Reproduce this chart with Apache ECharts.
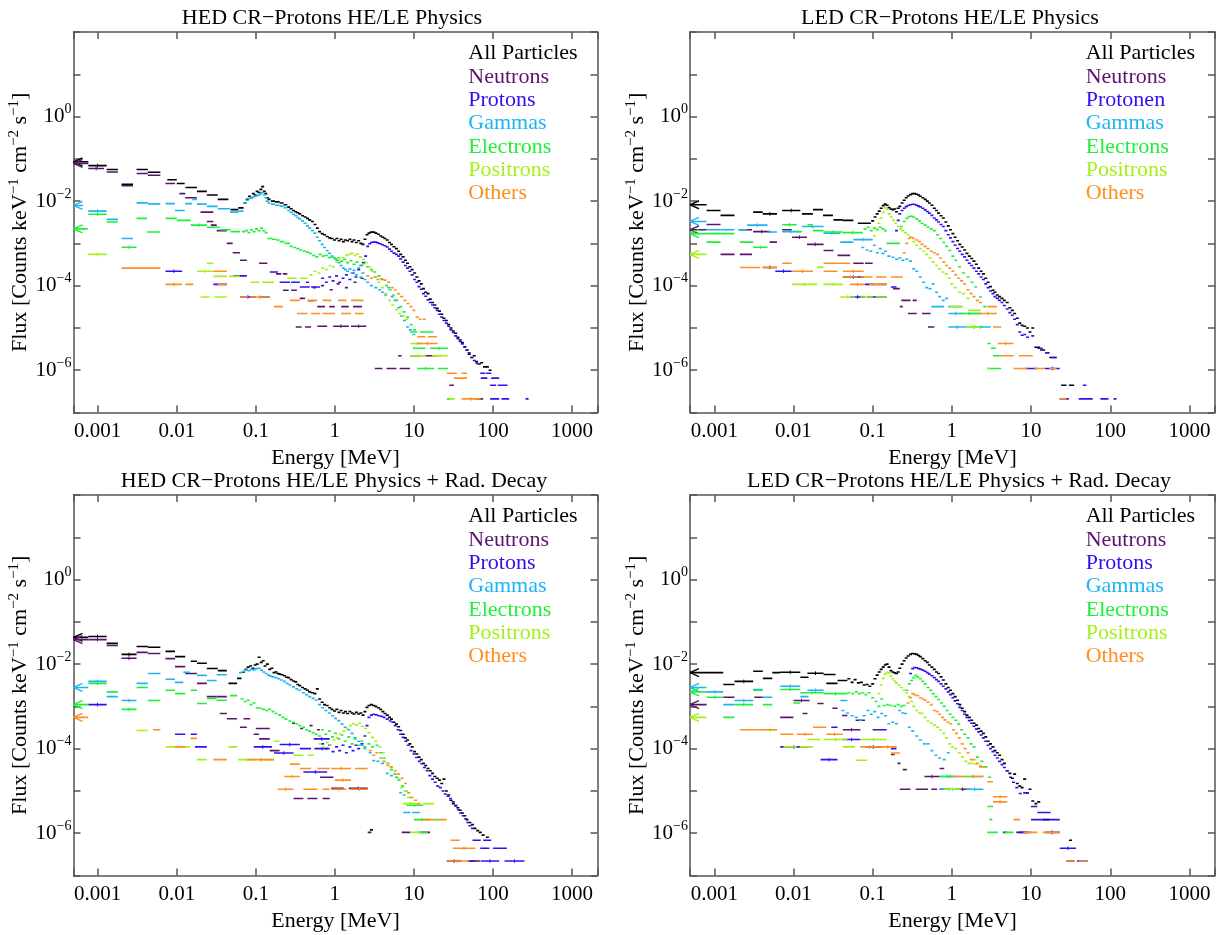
<!DOCTYPE html>
<html>
<head>
<meta charset="utf-8">
<title>CR-Protons spectra</title>
<script src="https://cdn.jsdelivr.net/npm/echarts@6/dist/echarts.min.js"></script>
<style>
  html, body { margin: 0; padding: 0; background: #fff; }
  #main { width: 1222px; height: 935px; }
</style>
</head>
<body>
<div id="main"></div>
<script>
// values. a point is [Elow, Ehigh, flux] for a wide bin
// or [E, flux] for a narrow one. energy in MeV, flux in counts keV^-1 cm^-2 s^-1
// (a bin starting below the axis minimum is an underflow and gets an arrow)

var particleNames = ['All Particles', 'Neutrons', 'Protons', 'Gammas', 'Electrons', 'Positrons', 'Others'];
var particleNamesLed = ['All Particles', 'Neutrons', 'Protonen', 'Gammas', 'Electrons', 'Positrons', 'Others'];
var panelTitles = [
  'HED CR\u2212Protons HE/LE Physics',
  'LED CR\u2212Protons HE/LE Physics',
  'HED CR\u2212Protons HE/LE Physics + Rad. Decay',
  'LED CR\u2212Protons HE/LE Physics + Rad. Decay'
];
var xTickValues = [0.001, 0.01, 0.1, 1, 10, 100, 1000];
var xTickLabels = ['0.001', '0.01', '0.1', '1', '10', '100', '1000'];
var yTickExponents = [0, -2, -4, -6];
var yTickSuperscripts = ['0', '\u22122', '\u22124', '\u22126'];

// ---------- HED, HE/LE physics ----------
var hedAll = [
  [3e-4, 7.6e-4, 8.5e-2], [7.6e-4, 1.3e-3, 6.9e-2], [1.3e-3, 1.8e-3, 5.6e-2], [2.0e-3, 2.8e-3, 2.5e-2],
  [3.1e-3, 4.3e-3, 5.6e-2], [4.3e-3, 6.2e-3, 4.8e-2], [7.6e-3, 1.0e-2, 3.2e-2], [1.0e-2, 1.26e-2, 2.6e-2],
  [1.29e-2, 1.8e-2, 2.1e-2], [1.8e-2, 2.4e-2, 1.7e-2], [2.4e-2, 3.3e-2, 1.4e-2], [3.3e-2, 4.5e-2, 1.1e-2],
  [4.8e-2, 6.0e-2, 6.3e-3], [6.0e-2, 7.0e-2, 6.9e-3],
  [0.073, 9.0e-3], [0.078, 1.1e-2], [0.083, 1.3e-2], [0.088, 1.2e-2], [0.093, 1.5e-2], [0.098, 1.4e-2],
  [0.104, 1.7e-2], [0.11, 1.6e-2], [0.116, 1.9e-2], [0.122, 2.2e-2], [0.128, 1.7e-2], [0.134, 1.5e-2],
  [0.14, 1.2e-2], [0.147, 1.1e-2],
  [0.155, 0.175, 1.0e-2], [0.175, 0.2, 9.6e-3], [0.2, 0.225, 9.0e-3], [0.225, 0.25, 8.2e-3],
  [0.26, 7.2e-3], [0.28, 6.6e-3], [0.3, 6.0e-3], [0.32, 5.6e-3], [0.34, 5.3e-3], [0.36, 5.0e-3],
  [0.39, 4.5e-3], [0.42, 4.2e-3], [0.45, 3.9e-3], [0.48, 3.6e-3], [0.52, 3.3e-3], [0.56, 2.8e-3],
  [0.6, 2.3e-3], [0.64, 1.9e-3], [0.69, 1.7e-3], [0.74, 1.6e-3], [0.8, 1.45e-3], [0.86, 1.35e-3],
  [0.92, 1.3e-3], [0.99, 1.2e-3], [1.06, 1.3e-3], [1.13, 1.15e-3], [1.2, 1.25e-3], [1.28, 1.1e-3],
  [1.36, 1.2e-3], [1.45, 1.15e-3], [1.55, 1.25e-3], [1.65, 1.1e-3], [1.75, 1.2e-3], [1.87, 1.05e-3],
  [2.0, 1.15e-3], [2.13, 1.0e-3], [2.27, 9.5e-4], [2.4, 1.25e-3], [2.55, 1.6e-3], [2.7, 1.75e-3],
  [2.9, 1.85e-3], [3.1, 1.85e-3], [3.3, 1.75e-3], [3.55, 1.65e-3], [3.8, 1.5e-3], [4.05, 1.4e-3],
  [4.3, 1.3e-3], [4.6, 1.2e-3], [4.9, 1.05e-3], [5.2, 9.5e-4], [5.6, 8.3e-4], [6.0, 7.5e-4],
  [6.4, 6.5e-4], [6.8, 5.5e-4], [7.3, 4.8e-4], [7.8, 4.0e-4], [8.3, 3.4e-4], [8.9, 2.8e-4],
  [9.5, 2.4e-4], [10.2, 2.0e-4], [10.9, 1.6e-4], [11.6, 1.3e-4], [12.4, 1.1e-4], [13.2, 8.5e-5],
  [14.1, 7.0e-5], [15.1, 6.5e-5], [16.1, 4.8e-5], [17.2, 4.0e-5], [18.4, 3.5e-5], [19.7, 2.9e-5],
  [21, 2.5e-5], [22.5, 2.1e-5], [24, 1.7e-5], [25.7, 1.5e-5], [27.5, 1.2e-5], [29.4, 1.0e-5],
  [31.5, 8.5e-6], [33.7, 7.5e-6], [36, 6.0e-6], [38.5, 5.2e-6], [41, 4.5e-6], [44, 3.6e-6],
  [47, 3.0e-6], [50, 2.4e-6], [54, 2.0e-6], [58, 2.2e-6], [62, 1.6e-6], [67, 1.4e-6],
  [72, 1.5e-6], [78, 1.2e-6], [85, 1.2e-6], [92, 1.0e-6]
];
var hedNeutrons = [
  [3e-4, 7.6e-4, 7.8e-2], [7.6e-4, 1.2e-3, 5.9e-2], [1.3e-3, 1.8e-3, 4.9e-2], [2.0e-3, 2.8e-3, 2.3e-2],
  [3.1e-3, 4.3e-3, 4.5e-2], [4.3e-3, 6.2e-3, 4.1e-2], [7.2e-3, 9.5e-3, 2.6e-2], [1.08e-2, 1.28e-2, 1.5e-2],
  [1.28e-2, 1.8e-2, 1.2e-2], [2.0e-2, 2.9e-2, 5.5e-3], [2.4e-2, 2.9e-2, 3.3e-3], [2.7e-2, 3.2e-2, 2.7e-3],
  [3.2e-2, 4.3e-2, 2.0e-3], [4.3e-2, 5.1e-2, 1.0e-3], [5.1e-2, 6.3e-2, 6.0e-4], [6.3e-2, 7.7e-2, 4.0e-4],
  [0.11, 0.14, 3.4e-4], [0.18, 0.21, 1.9e-4], [0.22, 0.25, 1.9e-4], [0.22, 0.26, 7.8e-5], [0.28, 0.33, 7.8e-5],
  [0.36, 0.42, 5.0e-5], [0.46, 0.54, 4.4e-5], [0.32, 0.38, 1.05e-5], [0.42, 0.5, 1.05e-5],
  [0.6, 0.75, 3.2e-5], [0.85, 1.0, 3.2e-5], [1.2, 1.5, 3.2e-5], [1.7, 2.2, 3.2e-5],
  [0.6, 0.8, 1.1e-5], [0.95, 1.5, 1.1e-5], [1.6, 2.5, 1.1e-5],
  [0.45, 1.2e-4], [0.55, 9e-5], [0.7, 1.0e-4], [0.9, 8e-5], [1.1, 1.1e-4], [1.4, 9e-5], [1.8, 1.2e-4], [2.2, 1.5e-4],
  [6.3, 7.0, 2.2e-6], [9, 12, 2.2e-6], [14, 20, 2.2e-6],
  [3.2, 4.0, 1.1e-6], [4.5, 6.0, 1.1e-6], [6.6, 8.9, 1.1e-6], [28, 32, 4.4e-7], [60, 75, 2.1e-7]
];
var hedProtons = [
  [7.2e-3, 1.17e-2, 2.2e-4], [2.9e-2, 4.3e-2, 1.07e-4], [5.2e-2, 7.7e-2, 1.7e-4], [6.3e-2, 0.1, 5.4e-5],
  [0.11, 0.15, 5.4e-5], [0.15, 0.19, 2.1e-4], [0.2, 0.27, 1.2e-4], [0.28, 0.36, 1.2e-4],
  [0.36, 0.48, 9.3e-5], [0.5, 0.65, 9.3e-5],
  [0.7, 1.5e-4], [0.78, 1.2e-4], [0.86, 1.6e-4], [0.95, 1.3e-4], [1.05, 1.7e-4], [1.15, 1.2e-4],
  [1.27, 1.5e-4], [1.4, 1.8e-4], [1.55, 1.4e-4], [1.7, 2.0e-4], [1.85, 1.6e-4], [2.0, 2.4e-4],
  [2.15, 3.0e-4], [2.3, 3.5e-4], [2.45, 5e-4], [2.6, 8.5e-4], [2.75, 9.8e-4], [2.9, 1.05e-3],
  [3.1, 1.07e-3], [3.3, 1.07e-3], [3.5, 1.03e-3], [3.75, 9.8e-4], [4.0, 9.3e-4], [4.3, 8.8e-4],
  [4.6, 8.2e-4], [4.9, 7.3e-4], [5.2, 6.5e-4], [5.6, 5.9e-4], [6.0, 5.5e-4], [6.4, 5.0e-4],
  [6.8, 4.3e-4], [7.3, 3.6e-4], [7.8, 3.0e-4], [8.3, 2.6e-4], [8.9, 2.2e-4], [9.5, 1.8e-4],
  [10.2, 1.4e-4], [10.9, 1.2e-4], [11.6, 9.5e-5], [12.4, 8.2e-5], [13.2, 6.5e-5], [14.1, 5.6e-5],
  [15.1, 4.6e-5], [16.1, 4.0e-5], [17.2, 3.5e-5], [18.4, 3.0e-5], [19.7, 2.6e-5], [21, 2.1e-5],
  [22.5, 1.8e-5], [24, 1.5e-5], [25.7, 1.3e-5], [27.5, 1.1e-5], [29.4, 9.0e-6], [31.5, 7.8e-6],
  [33.7, 6.5e-6], [36, 5.6e-6], [38.5, 4.8e-6], [41, 4.2e-6], [44, 3.5e-6], [47, 3.0e-6],
  [50, 2.6e-6], [54, 2.0e-6], [58, 1.7e-6], [63, 1.45e-6],
  [69, 80, 8.5e-7], [82, 95, 8.5e-7], [70, 85, 6.5e-7], [95, 120, 6.5e-7], [92, 110, 4.4e-7],
  [115, 153, 4.4e-7], [92, 120, 2.1e-7], [128, 160, 2.1e-7], [260, 280, 2.1e-7]
];
var hedGammas = [
  [3e-4, 6.5e-4, 7.9e-3], [7.6e-4, 1.3e-3, 5.8e-3], [1.3e-3, 1.8e-3, 3.7e-3], [2.0e-3, 2.8e-3, 1.3e-3],
  [3.1e-3, 4.3e-3, 9.1e-3], [4.3e-3, 6.2e-3, 8.6e-3], [7.2e-3, 9.5e-3, 8.7e-3], [9.5e-3, 1.26e-2, 6.0e-3],
  [1.28e-2, 1.57e-2, 8.7e-3], [1.57e-2, 1.8e-2, 1.1e-2], [1.8e-2, 2.4e-2, 8.5e-3], [2.4e-2, 3.3e-2, 7.5e-3],
  [3.3e-2, 4.7e-2, 6.6e-3], [4.7e-2, 6.0e-2, 5.5e-3], [6.0e-2, 7.0e-2, 5.8e-3],
  [0.073, 9e-3], [0.078, 1.05e-2], [0.083, 1.15e-2], [0.088, 1.2e-2], [0.093, 1.25e-2], [0.098, 1.3e-2],
  [0.104, 1.35e-2], [0.11, 1.4e-2], [0.116, 1.5e-2], [0.122, 1.6e-2], [0.128, 1.4e-2], [0.134, 1.2e-2],
  [0.14, 1.0e-2], [0.147, 9e-3],
  [0.155, 0.175, 8.5e-3], [0.175, 0.2, 8.0e-3], [0.2, 0.225, 7.6e-3], [0.225, 0.25, 7.0e-3],
  [0.26, 6.0e-3], [0.28, 5.4e-3], [0.3, 4.9e-3], [0.32, 4.5e-3], [0.34, 4.1e-3], [0.36, 3.8e-3],
  [0.39, 3.4e-3], [0.42, 3.0e-3], [0.45, 2.6e-3], [0.48, 2.3e-3], [0.52, 2.0e-3], [0.56, 1.75e-3],
  [0.6, 1.4e-3], [0.64, 1.15e-3], [0.69, 9.5e-4], [0.74, 8e-4], [0.8, 6.8e-4], [0.86, 5.8e-4],
  [0.92, 5e-4], [0.99, 4.5e-4], [1.06, 4e-4], [1.13, 3.5e-4], [1.2, 3.0e-4], [1.28, 2.6e-4],
  [1.36, 2.4e-4], [1.45, 2.2e-4], [1.55, 2.5e-4], [1.65, 2.0e-4], [1.75, 2.3e-4], [1.87, 1.8e-4],
  [2.0, 2.6e-4], [2.13, 1.6e-4], [2.27, 2.0e-4], [2.4, 1.4e-4], [2.6, 1.2e-4], [2.9, 1.0e-4],
  [3.3, 9e-5], [3.7, 8e-5], [4.0, 7e-5], [4.4, 6e-5], [4.8, 9e-5], [5.3, 5.5e-5], [5.8, 4.5e-5],
  [6.4, 3e-5], [7.0, 1.9e-5], [7.6, 1.5e-5], [8.3, 1.05e-5], [9.0, 9e-6], [10, 7e-6], [11, 4.3e-6]
];
var hedElectrons = [
  [3e-4, 7.5e-4, 2.2e-3], [7.6e-4, 1.3e-3, 4.9e-3], [1.3e-3, 1.8e-3, 3.2e-3], [2.0e-3, 3.1e-3, 8.1e-4],
  [3.1e-3, 4.2e-3, 3.9e-3], [4.2e-3, 6.2e-3, 1.86e-3], [7.2e-3, 1.0e-2, 3.9e-3], [1.0e-2, 1.5e-2, 3.5e-3],
  [1.5e-2, 2.4e-2, 2.7e-3], [2.4e-2, 3.5e-2, 2.4e-3], [3.5e-2, 4.8e-2, 2.1e-3], [4.8e-2, 6.3e-2, 1.9e-3],
  [0.07, 1.9e-3], [0.076, 2.0e-3], [0.082, 1.8e-3], [0.088, 2.1e-3], [0.095, 1.9e-3], [0.102, 2.2e-3],
  [0.11, 2.0e-3], [0.118, 2.3e-3], [0.126, 2.0e-3], [0.135, 1.8e-3],
  [0.14, 0.16, 1.3e-3], [0.16, 0.18, 1.25e-3], [0.18, 0.2, 1.2e-3], [0.2, 0.23, 1.1e-3], [0.23, 0.27, 1.0e-3],
  [0.28, 8.5e-4], [0.31, 8e-4], [0.34, 7.5e-4], [0.37, 7e-4], [0.41, 6.5e-4], [0.45, 6.2e-4],
  [0.49, 5.8e-4], [0.54, 5.2e-4], [0.59, 4.8e-4], [0.65, 5.5e-4], [0.71, 5e-4], [0.78, 5.2e-4],
  [0.85, 4.6e-4], [0.93, 4.8e-4], [1.02, 4.3e-4], [1.12, 4.5e-4], [1.22, 3.8e-4], [1.33, 4.2e-4],
  [1.45, 3.5e-4], [1.6, 3.9e-4], [1.75, 3.2e-4], [1.9, 3.6e-4], [2.1, 3.0e-4], [2.3, 3.3e-4],
  [2.6, 2.8e-4], [2.9, 2.4e-4], [3.2, 2.1e-4], [3.6, 1.7e-4], [4.0, 1.4e-4], [4.5, 1.0e-4],
  [5.0, 8e-5], [5.5, 6e-5], [6.1, 4.5e-5], [6.8, 3.2e-5], [7.5, 2.4e-5], [8.3, 1.8e-5],
  [9.2, 1.2e-5], [10.2, 9e-6],
  [8.9, 11, 8e-6], [12, 17.7, 8e-6], [9.7, 14, 3.3e-6], [16, 27, 3.3e-6], [10, 14, 2.2e-6],
  [11, 18, 1.1e-6], [20, 27, 1.1e-6], [26, 30, 2.1e-7]
];
var hedPositrons = [
  [7.6e-4, 1.3e-3, 5.5e-4], [1.8e-2, 2.9e-2, 2.2e-4], [2.4e-2, 2.9e-2, 3.4e-4], [2.9e-2, 4.3e-2, 1.66e-4],
  [4.6e-2, 6.3e-2, 1.66e-4], [2.0e-2, 2.6e-2, 5.4e-5], [3.0e-2, 4.3e-2, 5.4e-5], [8.5e-2, 0.11, 1.2e-4],
  [0.12, 0.17, 1.2e-4], [0.25, 0.33, 1.5e-4], [0.36, 0.45, 1.5e-4],
  [0.5, 1.8e-4], [0.56, 2.2e-4], [0.63, 2.0e-4], [0.7, 2.6e-4], [0.78, 2.4e-4], [0.87, 3.0e-4],
  [0.96, 2.8e-4], [1.06, 3.6e-4], [1.16, 4.0e-4], [1.27, 4.6e-4], [1.4, 5.2e-4], [1.52, 5.5e-4],
  [1.65, 5.8e-4], [1.8, 5.2e-4], [1.95, 5.6e-4], [2.1, 4.8e-4], [2.3, 4.2e-4], [2.5, 3.5e-4],
  [2.75, 2.8e-4], [3.0, 2.2e-4], [3.3, 1.6e-4], [3.6, 1.2e-4], [4.0, 9e-5], [4.4, 6.5e-5],
  [4.9, 4.5e-5], [5.4, 3.5e-5], [6.0, 2.7e-5], [6.6, 2.2e-5], [7.3, 1.9e-5], [8.1, 1.6e-5],
  [9, 13, 4.3e-6], [9, 14, 2.2e-6], [17, 27, 2.2e-6], [28, 33, 2.1e-7]
];
var hedOthers = [
  [2.0e-3, 2.8e-3, 2.6e-4], [2.8e-3, 3.6e-3, 2.6e-4], [3.6e-3, 4.9e-3, 2.6e-4], [4.9e-3, 6.2e-3, 2.6e-4],
  [7.2e-3, 1.17e-2, 1.07e-4], [1.28e-2, 1.62e-2, 1.07e-4], [2.9e-2, 4.3e-2, 2.2e-4], [3.3e-2, 4.3e-2, 1.07e-4],
  [6.3e-2, 8e-2, 5.4e-5], [8.5e-2, 0.15, 5.4e-5], [0.17, 0.22, 3.2e-5], [0.27, 0.36, 4.5e-5],
  [0.33, 0.45, 2.2e-5], [0.5, 0.65, 2.2e-5],
  [0.45, 0.6, 4.5e-5], [0.7, 0.9, 4.5e-5], [1.1, 1.4, 4.5e-5], [1.6, 2.3, 4.5e-5],
  [0.7, 1.0, 2.2e-5], [1.2, 1.6, 2.2e-5], [1.8, 2.3, 2.2e-5],
  [2.6, 1.7e-4], [2.9, 1.5e-4], [3.2, 1.6e-4], [3.5, 1.4e-4], [3.9, 1.45e-4], [4.3, 1.35e-4],
  [4.8, 1.2e-4], [5.3, 9e-5], [5.8, 7.9e-5], [6.4, 6.5e-5], [7.0, 5.5e-5], [7.7, 4.5e-5],
  [8.4, 3.8e-5], [9.2, 3.2e-5], [10, 2.6e-5], [11, 1.8e-5], [12, 1.6e-5], [13.5, 1.6e-5],
  [11, 14, 6.2e-6], [15, 19.5, 6.2e-6], [11, 20, 4.3e-6], [26, 35, 8.5e-7], [40, 47, 8.5e-7],
  [32, 47, 6.5e-7], [40, 70, 2.1e-7]
];

// ---------- LED, HE/LE physics ----------
var ledAll = [
  [3e-4, 8e-4, 8.2e-3], [8e-4, 1.2e-3, 6.0e-3], [1.2e-3, 1.8e-3, 4.6e-3], [3.1e-3, 4.1e-3, 5.5e-3],
  [4.1e-3, 6.2e-3, 5.0e-3], [7.2e-3, 1.22e-2, 6.0e-3], [1.28e-2, 1.76e-2, 5.0e-3], [1.76e-2, 2.36e-2, 6.3e-3],
  [2.36e-2, 3.15e-2, 4.6e-3], [3.2e-2, 4.2e-2, 3.6e-3], [4.2e-2, 5.7e-2, 3.5e-3], [6.5e-2, 9.5e-2, 3.0e-3],
  [0.1, 3.4e-3], [0.107, 4.2e-3], [0.114, 5.0e-3], [0.121, 5.8e-3], [0.128, 6.8e-3], [0.136, 7.8e-3],
  [0.144, 8.5e-3], [0.152, 8.0e-3], [0.161, 7.0e-3], [0.17, 6.5e-3], [0.18, 6.3e-3], [0.19, 6.5e-3],
  [0.2, 5.6e-3], [0.21, 6.8e-3], [0.22, 7.5e-3], [0.235, 9.0e-3], [0.25, 1.05e-2], [0.265, 1.2e-2],
  [0.28, 1.32e-2], [0.3, 1.42e-2], [0.32, 1.5e-2], [0.34, 1.5e-2], [0.36, 1.45e-2], [0.38, 1.4e-2],
  [0.4, 1.3e-2], [0.43, 1.2e-2], [0.46, 1.1e-2], [0.49, 1.0e-2], [0.52, 9.0e-3], [0.56, 8.0e-3],
  [0.6, 6.8e-3], [0.64, 6.0e-3], [0.68, 5.2e-3], [0.73, 4.5e-3], [0.78, 4.0e-3], [0.84, 3.2e-3],
  [0.9, 2.6e-3], [0.96, 2.1e-3], [1.03, 1.7e-3], [1.1, 1.4e-3], [1.18, 1.15e-3], [1.26, 9.5e-4],
  [1.35, 8.2e-4], [1.45, 7.0e-4], [1.55, 5.8e-4], [1.66, 5.0e-4], [1.78, 4.4e-4], [1.9, 3.8e-4],
  [2.04, 3.2e-4], [2.18, 2.6e-4], [2.34, 2.2e-4], [2.5, 1.9e-4], [2.68, 1.5e-4], [2.87, 1.2e-4],
  [3.07, 9.5e-5], [3.3, 7.8e-5], [3.5, 7e-5], [3.75, 6e-5], [4.0, 5.5e-5], [4.3, 5e-5],
  [4.6, 4.5e-5], [5.0, 4e-5], [5.4, 3e-5], [5.8, 2.6e-5], [6.2, 2.2e-5], [6.7, 1.7e-5],
  [7.2, 1.3e-5], [7.7, 1.15e-5], [8.3, 1.1e-5], [9.0, 1.0e-5], [9.7, 8e-6], [10.5, 1.0e-5],
  [11, 13, 3.5e-6], [13, 15, 3.0e-6], [15, 17, 2.6e-6], [17, 21, 2.0e-6], [24, 28, 4.4e-7], [30, 35, 4.4e-7]
];
var ledNeutrons = [
  [3e-4, 8e-4, 2.1e-3], [8e-4, 1.2e-3, 2.8e-3], [1.2e-3, 1.8e-3, 5.5e-4], [2.1e-3, 3.0e-3, 2.1e-3],
  [2.1e-3, 3.0e-3, 5.5e-4], [3.1e-3, 5.1e-3, 1.9e-3], [4.1e-3, 6.2e-3, 2.7e-4], [5.0e-3, 6.2e-3, 1.07e-3],
  [7.2e-3, 9.5e-3, 2.1e-3], [9.6e-3, 1.48e-2, 1.4e-3], [1.48e-2, 2.4e-2, 9.5e-4], [2.4e-2, 3.2e-2, 6.8e-4],
  [3.6e-2, 5.2e-2, 5.2e-4], [5.7e-2, 7.7e-2, 3.4e-4], [8e-2, 0.1, 3.4e-4], [8.5e-2, 0.1, 5.4e-5],
  [0.18, 0.22, 8.5e-5], [0.22, 0.24, 3.2e-5], [0.28, 0.36, 2.2e-5], [0.42, 0.54, 2.2e-5],
  [0.23, 0.3, 4.5e-5], [0.32, 0.36, 4.5e-5], [0.5, 0.6, 1.05e-5]
];
var ledProtons = [
  [5.9e-3, 9.5e-3, 2.2e-4], [4.2e-2, 7.7e-2, 1.6e-4], [8e-2, 0.11, 1.07e-4], [0.12, 0.15, 1.07e-4],
  [5.2e-2, 0.08, 5.4e-5], [0.1, 0.15, 5.4e-5], [0.17, 0.2, 9.3e-5],
  [0.2, 2.0e-3], [0.21, 3.5e-3], [0.22, 5.0e-3], [0.235, 6.0e-3], [0.25, 6.8e-3], [0.265, 7.4e-3],
  [0.28, 7.9e-3], [0.3, 8.2e-3], [0.32, 8.4e-3], [0.34, 8.3e-3], [0.36, 8.0e-3], [0.38, 7.6e-3],
  [0.4, 7.3e-3], [0.43, 6.8e-3], [0.46, 6.2e-3], [0.49, 5.7e-3], [0.52, 5.2e-3], [0.56, 4.6e-3],
  [0.6, 4.0e-3], [0.64, 3.6e-3], [0.68, 3.2e-3], [0.73, 2.8e-3], [0.78, 2.5e-3], [0.84, 2.0e-3],
  [0.9, 1.6e-3], [0.96, 1.35e-3], [1.03, 1.1e-3], [1.1, 9e-4], [1.18, 7.6e-4], [1.26, 6.5e-4],
  [1.35, 5.5e-4], [1.45, 4.8e-4], [1.55, 4.0e-4], [1.66, 3.4e-4], [1.78, 3.0e-4], [1.9, 2.6e-4],
  [2.04, 2.2e-4], [2.18, 1.9e-4], [2.34, 1.6e-4], [2.5, 1.4e-4], [2.68, 1.1e-4], [2.87, 9e-5],
  [3.07, 7.5e-5], [3.3, 6.5e-5], [3.5, 5.5e-5], [3.75, 5e-5], [4.0, 4.5e-5], [4.3, 4e-5],
  [4.6, 3.4e-5], [5.0, 2.8e-5], [5.4, 2.3e-5], [5.8, 2e-5], [6.2, 1.6e-5], [6.7, 1.2e-5],
  [7.2, 8e-6], [7.7, 6.7e-6], [8.3, 7e-6], [9.0, 6e-6], [10.5, 6.5e-6],
  [12, 14, 3.3e-6], [15, 17, 2.6e-6], [18, 21, 2.0e-6], [8.5, 12, 1.1e-6], [15, 23, 1.1e-6],
  [45, 50, 4.4e-7], [23, 30, 2.1e-7], [40, 60, 2.1e-7], [75, 95, 2.1e-7], [110, 120, 2.1e-7]
];
var ledGammas = [
  [3e-4, 8e-4, 3.3e-3], [8e-4, 1.2e-3, 2.1e-3], [1.2e-3, 1.8e-3, 2.1e-3], [2.0e-3, 2.6e-3, 2.1e-3],
  [2.6e-3, 4.7e-3, 2.7e-3], [4.7e-3, 6.2e-3, 1.86e-3], [7.2e-3, 1.2e-2, 1.9e-3], [1.28e-2, 2.4e-2, 2.5e-3],
  [2.4e-2, 3.9e-2, 1.75e-3], [3.9e-2, 5.7e-2, 1.07e-3], [5.7e-2, 0.1, 1.23e-3],
  [0.075, 8e-4], [0.085, 7e-4], [0.095, 6.5e-4], [0.105, 9e-4], [0.115, 6e-4], [0.125, 7.5e-4],
  [0.135, 5.8e-4], [0.145, 6.5e-4], [0.16, 5e-4], [0.18, 4.7e-4], [0.2, 4.2e-4], [0.22, 4.5e-4],
  [0.24, 4.0e-4], [0.27, 4.2e-4], [0.3, 3.8e-4], [0.33, 2.5e-4], [0.36, 2.2e-4], [0.4, 1.6e-4],
  [0.44, 1.2e-4], [0.48, 9e-5], [0.53, 8.5e-5], [0.58, 1.1e-4], [0.64, 7e-5], [0.7, 5.5e-5],
  [0.78, 4.5e-5], [0.86, 5e-5],
  [0.55, 0.8, 3.2e-5], [0.9, 1.3, 3.2e-5], [0.9, 1.4, 2.2e-5], [1.6, 2.3, 2.2e-5],
  [0.9, 1.5, 1.05e-5], [1.7, 3.1, 1.05e-5]
];
var ledElectrons = [
  [3e-4, 8e-4, 1.7e-3], [8e-4, 1.2e-3, 1.7e-3], [1.2e-3, 1.8e-3, 1.7e-3], [8e-4, 1.2e-3, 1.07e-3],
  [2.1e-3, 3.1e-3, 1.07e-3], [3.1e-3, 4.7e-3, 8.1e-4], [7.2e-3, 1.1e-2, 2.75e-3], [1.1e-2, 1.28e-2, 1.9e-3],
  [1.5e-2, 1.76e-2, 2.75e-3], [1.76e-2, 2.4e-2, 2.0e-3], [2.4e-2, 4.2e-2, 1.86e-3], [4.2e-2, 7.5e-2, 1.8e-3],
  [0.08, 2.2e-3], [0.088, 2.4e-3], [0.096, 2.0e-3], [0.105, 2.3e-3], [0.115, 2.1e-3], [0.125, 2.4e-3],
  [0.135, 2.2e-3], [0.145, 2.0e-3], [0.15, 0.18, 1.0e-3], [0.18, 0.22, 1.0e-3],
  [0.23, 2.5e-3], [0.25, 3.3e-3], [0.27, 3.9e-3], [0.29, 4.3e-3], [0.31, 4.4e-3], [0.33, 4.2e-3],
  [0.36, 3.8e-3], [0.39, 3.4e-3], [0.42, 3.0e-3], [0.46, 2.7e-3], [0.5, 2.4e-3], [0.55, 2.2e-3],
  [0.6, 2.0e-3], [0.66, 1.6e-3], [0.72, 1.3e-3], [0.79, 1.05e-3], [0.86, 8.5e-4], [0.94, 6.8e-4],
  [1.03, 5e-4], [1.12, 4e-4], [1.25, 2.8e-4], [1.4, 2.0e-4], [1.6, 1.6e-4], [1.8, 1.2e-4],
  [2.0, 9.3e-5], [2.3, 5.4e-5], [2.6, 3.2e-5],
  [1.2, 2.3, 2.2e-5], [1.5, 2.5, 1.05e-5], [2.8, 3.1, 4.3e-6], [3.1, 3.6, 3.3e-6], [3.3, 4.2, 2.2e-6],
  [2.8, 4.2, 1.1e-6]
];
var ledPositrons = [
  [3e-4, 8e-4, 5.5e-4], [9.6e-3, 2.0e-2, 1.07e-4], [2.0e-2, 2.4e-2, 2.75e-4], [2.4e-2, 4.2e-2, 1.07e-4],
  [3.9e-2, 6e-2, 5.4e-5], [7e-2, 0.1, 5.4e-5], [0.11, 0.15, 5.4e-5],
  [0.105, 1.5e-3], [0.112, 2.2e-3], [0.12, 3.0e-3], [0.128, 4.0e-3], [0.136, 5.4e-3], [0.144, 7.0e-3],
  [0.153, 6.4e-3], [0.162, 5.0e-3], [0.172, 4.2e-3], [0.183, 3.5e-3], [0.195, 3.0e-3], [0.21, 2.5e-3],
  [0.225, 2.2e-3], [0.24, 2.0e-3], [0.26, 1.8e-3], [0.28, 1.6e-3], [0.3, 1.4e-3], [0.33, 1.1e-3],
  [0.36, 9e-4], [0.4, 7.5e-4], [0.44, 6.5e-4], [0.48, 5.5e-4], [0.53, 4.5e-4], [0.58, 3.6e-4],
  [0.64, 3.0e-4], [0.7, 2.5e-4], [0.77, 2.1e-4], [0.85, 1.9e-4], [0.93, 1.5e-4], [1.0, 1.1e-4],
  [1.1, 9e-5], [1.25, 7e-5], [1.4, 6.5e-5], [1.6, 5e-5],
  [0.95, 1.4, 3.2e-5], [1.6, 2.3, 2.6e-5], [1.5, 2.3, 1.05e-5], [2.8, 3.0, 1.1e-6]
];
var ledOthers = [
  [2.1e-3, 2.8e-3, 2.7e-4], [2.8e-3, 3.8e-3, 2.7e-4], [4.1e-3, 5.0e-3, 2.7e-4], [5.0e-3, 6.2e-3, 2.7e-4],
  [7.2e-3, 9.5e-3, 3.4e-4], [9.6e-3, 1.76e-2, 2.2e-4], [2.4e-2, 3.6e-2, 3.4e-4], [3.6e-2, 5.2e-2, 3.4e-4],
  [2.4e-2, 3.6e-2, 2.2e-4], [4.2e-2, 7.7e-2, 2.2e-4], [4.2e-2, 6.5e-2, 1.6e-4], [7e-2, 0.1, 1.6e-4],
  [0.11, 0.15, 1.6e-4], [5.2e-2, 8e-2, 1.07e-4], [9e-2, 0.15, 1.07e-4], [0.17, 0.24, 1.6e-4],
  [0.25, 6e-4], [0.27, 1.0e-3], [0.29, 1.3e-3], [0.31, 1.4e-3], [0.33, 1.3e-3], [0.36, 1.2e-3],
  [0.39, 1.1e-3], [0.42, 9.5e-4], [0.46, 8.5e-4], [0.5, 7.5e-4], [0.55, 6.5e-4], [0.6, 6e-4],
  [0.66, 5.5e-4], [0.72, 4.5e-4], [0.79, 3.6e-4], [0.86, 3.0e-4], [0.94, 2.6e-4], [1.03, 2.2e-4],
  [1.12, 1.8e-4], [1.22, 1.5e-4], [1.33, 1.3e-4], [1.45, 1.1e-4], [1.6, 8e-5], [1.75, 6.5e-5],
  [1.9, 5.5e-5], [2.1, 4.5e-5], [2.3, 4e-5],
  [2.8, 3.7, 3.2e-5], [2.2, 3.7, 2.2e-5], [3.3, 4.2, 1.05e-5], [3.8, 6, 4.3e-6], [4.2, 6, 2.2e-6],
  [7, 10.5, 2.2e-6], [6, 9, 1.1e-6], [11, 15, 1.1e-6], [17, 21, 1.1e-6], [23, 28, 2.1e-7]
];

// ---------- HED, HE/LE physics + radioactive decay ----------
var hedRdAll = [
  [3e-4, 7.6e-4, 4.3e-2], [7.6e-4, 1.3e-3, 4.5e-2], [1.3e-3, 1.8e-3, 3.1e-2], [2.0e-3, 3.1e-3, 1.7e-2],
  [3.1e-3, 4.3e-3, 2.6e-2], [4.3e-3, 6.2e-3, 2.5e-2], [7.2e-3, 9.5e-3, 2.0e-2], [9.5e-3, 1.28e-2, 1.5e-2],
  [1.5e-2, 1.8e-2, 1.17e-2], [1.8e-2, 2.4e-2, 1.05e-2], [2.4e-2, 3.3e-2, 7.9e-3], [3.3e-2, 4.3e-2, 7.0e-3],
  [4.5e-2, 5.8e-2, 3.5e-3], [5.8e-2, 6.6e-2, 4.6e-3],
  [0.07, 6.5e-3], [0.075, 7.5e-3], [0.08, 8.5e-3], [0.086, 9e-3], [0.092, 8e-3], [0.098, 9.5e-3],
  [0.104, 1.0e-2], [0.11, 1.45e-2], [0.117, 1.1e-2], [0.124, 1.2e-2], [0.131, 9e-3], [0.14, 1.0e-2],
  [0.15, 7.5e-3], [0.16, 8e-3], [0.17, 6.3e-3], [0.18, 6.5e-3], [0.19, 6e-3], [0.2, 5.8e-3],
  [0.215, 5.6e-3], [0.23, 5.3e-3], [0.245, 4.9e-3], [0.26, 4.8e-3], [0.28, 4.3e-3], [0.3, 4.0e-3],
  [0.32, 3.8e-3], [0.34, 3.3e-3], [0.36, 3.1e-3], [0.39, 2.8e-3], [0.42, 2.6e-3], [0.45, 2.4e-3],
  [0.48, 2.2e-3], [0.52, 2.1e-3], [0.56, 2.0e-3], [0.6, 2.6e-3], [0.64, 1.5e-3], [0.69, 1.25e-3],
  [0.74, 1.1e-3], [0.8, 1.05e-3], [0.86, 9.3e-4], [0.92, 8.5e-4], [0.99, 7.8e-4], [1.06, 8.5e-4],
  [1.13, 7.2e-4], [1.2, 8e-4], [1.28, 7e-4], [1.36, 7.5e-4], [1.45, 6.8e-4], [1.55, 7.6e-4],
  [1.65, 7e-4], [1.75, 6.6e-4], [1.87, 7.2e-4], [2.0, 6.6e-4], [2.13, 7e-4], [2.27, 6.2e-4],
  [2.4, 7.5e-4], [2.55, 9.5e-4], [2.7, 1.05e-3], [2.9, 1.1e-3], [3.1, 1.05e-3], [3.3, 1.0e-3],
  [3.55, 9.3e-4], [3.8, 8.5e-4], [4.05, 7.5e-4], [4.3, 6.8e-4], [4.6, 6.2e-4], [4.9, 5.5e-4],
  [5.2, 5e-4], [5.6, 4.2e-4], [6.0, 3.8e-4], [6.4, 3.3e-4], [6.8, 2.7e-4], [7.3, 2.2e-4],
  [7.8, 1.8e-4], [8.3, 1.6e-4], [8.9, 1.3e-4], [9.5, 1.1e-4], [10.2, 8.5e-5], [10.9, 7.5e-5],
  [11.6, 6.3e-5], [12.4, 5.5e-5], [13.2, 4.5e-5], [14.1, 4e-5], [15.1, 3.4e-5], [16.1, 3.0e-5],
  [17.2, 2.6e-5], [18.4, 2.2e-5], [19.7, 2.0e-5], [21, 1.8e-5], [22.5, 1.5e-5], [24, 1.9e-5],
  [25.7, 1.0e-5], [27.5, 8e-6], [29.4, 6e-6], [31.5, 5e-6], [33.7, 4.5e-6], [36, 4.0e-6],
  [38.5, 3.5e-6], [41, 3.0e-6], [44, 2.6e-6], [47, 2.1e-6], [51, 1.8e-6], [55, 1.6e-6],
  [59, 1.3e-6], [64, 1.15e-6], [69, 1.05e-6], [75, 9e-7], [85, 8e-7], [2.8, 3.0, 1.2e-6]
];
var hedRdNeutrons = [
  [3e-4, 7.6e-4, 3.8e-2], [7.6e-4, 1.3e-3, 3.8e-2], [1.3e-3, 1.8e-3, 2.75e-2], [2.0e-3, 3.1e-3, 1.38e-2],
  [3.1e-3, 4.3e-3, 1.9e-2], [4.3e-3, 6.2e-3, 1.78e-2], [7.2e-3, 9.5e-3, 1.35e-2], [9.5e-3, 1.28e-2, 8.7e-3],
  [1.28e-2, 1.8e-2, 6.0e-3], [1.8e-2, 2.4e-2, 3.5e-3], [2.4e-2, 3.2e-2, 1.7e-3], [3.2e-2, 4.3e-2, 1.7e-3],
  [3.5e-2, 4.3e-2, 6.8e-4], [4.3e-2, 5.8e-2, 5.1e-4], [7.0e-2, 8.5e-2, 5.1e-4], [6.3e-2, 7.7e-2, 3.2e-4],
  [0.1, 0.15, 3.0e-4], [0.094, 0.11, 2.2e-4], [0.11, 0.15, 1.7e-4], [0.15, 0.2, 9e-5],
  [0.3, 4e-4], [0.38, 3e-4], [0.5, 3.5e-4], [0.62, 2.8e-4],
  [0.3, 0.4, 6.6e-6], [0.45, 0.6, 6.6e-6], [0.7, 0.86, 6.6e-6], [0.65, 0.96, 2.1e-5],
  [0.9, 1.3, 1.15e-5], [1.5, 2.6, 1.15e-5], [2.6, 2.9, 1.05e-6], [7, 9, 1.05e-6], [12, 16, 1.05e-6],
  [26, 40, 2.2e-7], [50, 69, 2.2e-7]
];
var hedRdProtons = [
  [7.6e-4, 1.3e-3, 1.1e-3], [9.5e-3, 1.28e-2, 2.2e-4], [1.5e-2, 1.8e-2, 2.2e-4], [1.7e-2, 2.4e-2, 1.1e-4],
  [9.4e-2, 0.16, 1.1e-4], [0.17, 0.3, 7.9e-5], [0.2, 0.36, 1.25e-4], [0.36, 0.5, 1.0e-4],
  [0.55, 0.86, 1.0e-4], [0.54, 0.86, 1.7e-4], [0.4, 0.8, 2.8e-5],
  [0.7, 1.3e-4], [0.78, 1.0e-4], [0.86, 1.2e-4], [0.95, 8.5e-5], [1.05, 1.1e-4], [1.15, 9e-5],
  [1.27, 1.2e-4], [1.4, 8e-5], [1.55, 1.1e-4], [1.7, 9e-5], [1.85, 1.2e-4], [2.0, 1.0e-4],
  [2.2, 1.3e-4], [2.4, 2.0e-4], [2.55, 3.5e-4], [2.7, 5.5e-4], [2.9, 6.2e-4], [3.1, 6.5e-4],
  [3.35, 6.3e-4], [3.6, 6.0e-4], [3.9, 5.8e-4], [4.2, 5.5e-4], [4.6, 5.0e-4], [5.0, 4.5e-4],
  [5.4, 4.2e-4], [5.8, 3.5e-4], [6.3, 2.8e-4], [6.8, 2.2e-4], [7.3, 1.85e-4], [7.9, 1.5e-4],
  [8.5, 1.2e-4], [9.2, 9e-5], [10, 7.5e-5], [10.8, 6.2e-5], [11.7, 5e-5], [12.6, 4.4e-5],
  [13.6, 3.6e-5], [14.7, 3e-5], [15.9, 2.3e-5], [17.2, 1.9e-5], [18.6, 1.6e-5], [20, 1.3e-5],
  [21.6, 1.2e-5], [23.3, 1.0e-5], [25, 8.5e-6], [27, 7.5e-6], [29, 6.6e-6], [31.5, 5.5e-6],
  [34, 4.5e-6], [36.5, 3.6e-6], [39, 3.0e-6], [42, 2.6e-6], [45, 2.2e-6], [48, 1.8e-6],
  [51, 1.5e-6], [55, 1.3e-6],
  [55, 70, 6.8e-7], [75, 95, 6.8e-7], [69, 90, 4.4e-7], [100, 150, 4.4e-7], [47, 60, 2.2e-7],
  [70, 120, 2.2e-7], [140, 250, 2.2e-7]
];
var hedRdGammas = [
  [3e-4, 7.6e-4, 2.8e-3], [7.6e-4, 1.3e-3, 3.9e-3], [1.3e-3, 1.8e-3, 1.7e-3], [2.0e-3, 3.1e-3, 1.38e-3],
  [3.1e-3, 4.3e-3, 3.5e-3], [4.3e-3, 6.2e-3, 6.0e-3], [7.2e-3, 9.5e-3, 4.4e-3], [9.5e-3, 1.21e-2, 3.7e-3],
  [1.21e-2, 1.46e-2, 6.4e-3], [1.8e-2, 2.4e-2, 5.4e-3], [2.4e-2, 3.2e-2, 4.1e-3], [3.2e-2, 4.3e-2, 5.6e-3],
  [0.064, 6.3e-3], [0.07, 6.8e-3], [0.076, 7.2e-3], [0.082, 7e-3], [0.088, 7.5e-3], [0.095, 7.3e-3],
  [0.102, 7.8e-3], [0.11, 8e-3], [0.118, 7.2e-3], [0.126, 6.5e-3], [0.135, 6e-3], [0.145, 5.5e-3],
  [0.155, 5.2e-3], [0.165, 5.0e-3], [0.18, 4.8e-3], [0.195, 4.5e-3], [0.21, 4.2e-3], [0.23, 3.9e-3],
  [0.25, 3.5e-3], [0.27, 3.2e-3], [0.3, 2.9e-3], [0.33, 2.6e-3], [0.36, 2.4e-3], [0.4, 2.1e-3],
  [0.44, 1.9e-3], [0.48, 1.7e-3], [0.53, 1.55e-3], [0.58, 1.4e-3], [0.64, 1.1e-3], [0.7, 9.3e-4],
  [0.77, 8e-4], [0.85, 7e-4], [0.93, 6e-4], [1.02, 5.2e-4], [1.12, 4.6e-4], [1.23, 3.8e-4],
  [1.35, 3.2e-4], [1.5, 2.8e-4], [1.65, 2.3e-4], [1.8, 1.8e-4], [2.0, 1.5e-4], [2.2, 1.2e-4],
  [2.4, 1.1e-4], [2.8, 8e-5], [3.1, 5.2e-5], [3.5, 5e-5], [4.0, 4.5e-5], [4.6, 2.6e-5],
  [5.2, 2.3e-5], [6.0, 2.1e-5], [6.8, 9.1e-6], [7.5, 8e-6], [7.3, 9, 3.1e-6], [9.5, 12, 3.1e-6]
];
var hedRdElectrons = [
  [3e-4, 7.6e-4, 1.1e-3], [7.6e-4, 1.3e-3, 3.5e-3], [1.3e-3, 1.8e-3, 2.2e-3], [2.0e-3, 3.1e-3, 8.5e-4],
  [3.1e-3, 4.3e-3, 2.8e-3], [4.3e-3, 6.2e-3, 1.38e-3], [7.2e-3, 9.5e-3, 2.4e-3], [9.5e-3, 1.28e-2, 2.0e-3],
  [1.5e-2, 1.8e-2, 2.4e-3], [1.8e-2, 2.4e-2, 1.17e-3], [2.4e-2, 3.2e-2, 1.55e-3], [3.2e-2, 4.3e-2, 1.4e-3],
  [4.7e-2, 5.8e-2, 1.8e-3],
  [0.067, 1.5e-3], [0.073, 1.3e-3], [0.08, 1.4e-3], [0.087, 1.1e-3], [0.095, 1.2e-3], [0.104, 9.3e-4],
  [0.114, 9e-4], [0.125, 8.5e-4], [0.137, 8e-4], [0.15, 8.5e-4], [0.165, 7.5e-4], [0.18, 6.8e-4],
  [0.2, 6.2e-4], [0.22, 5.5e-4], [0.24, 5e-4], [0.27, 4.5e-4], [0.3, 4.2e-4], [0.33, 3.9e-4],
  [0.36, 3.5e-4], [0.4, 3.2e-4], [0.44, 2.8e-4], [0.48, 2.6e-4], [0.53, 2.4e-4], [0.58, 2.2e-4],
  [0.64, 2.0e-4], [0.7, 2.8e-4], [0.77, 2.2e-4], [0.85, 2.6e-4], [0.93, 1.9e-4], [1.02, 2.3e-4],
  [1.12, 1.7e-4], [1.23, 2.1e-4], [1.35, 1.5e-4], [1.5, 1.9e-4], [1.65, 1.3e-4], [1.8, 1.7e-4],
  [2.0, 1.2e-4], [2.2, 1.5e-4], [2.4, 1.0e-4], [2.7, 1.3e-4], [3.0, 1.1e-4], [3.4, 1.2e-4],
  [3.8, 8e-5], [4.2, 6e-5], [4.7, 4.5e-5], [5.2, 3.2e-5], [5.8, 2.5e-5], [6.5, 1.8e-5],
  [7.2, 1.3e-5], [8.0, 1.0e-5], [9.0, 7e-6],
  [8, 13, 4.6e-6], [10, 16, 2.1e-6], [18, 20, 2.1e-6], [11, 15, 1.05e-6]
];
var hedRdPositrons = [
  [3.1e-3, 4.3e-3, 2.7e-4], [7.2e-3, 1.0e-2, 1.1e-4], [1.1e-2, 1.46e-2, 1.1e-4], [4.5e-2, 5.8e-2, 1.1e-4],
  [1.8e-2, 2.4e-2, 5.5e-5], [6e-2, 0.1, 5.5e-5], [0.11, 0.17, 5.5e-5], [0.17, 0.2, 1.5e-4],
  [0.3, 0.4, 7e-5], [0.45, 0.54, 7e-5],
  [0.65, 1.3e-4], [0.72, 1.1e-4], [0.8, 1.4e-4], [0.88, 1.2e-4], [0.97, 1.6e-4], [1.07, 1.8e-4],
  [1.18, 2.2e-4], [1.3, 2.6e-4], [1.43, 3.0e-4], [1.57, 3.5e-4], [1.72, 3.9e-4], [1.88, 3.6e-4],
  [2.05, 4.0e-4], [2.25, 3.4e-4], [2.45, 3.0e-4], [2.7, 2.4e-4], [3.0, 1.85e-4], [3.3, 1.5e-4],
  [3.7, 1.1e-4], [4.1, 8e-5], [4.6, 4.5e-5], [5.1, 3.6e-5], [5.7, 2.6e-5], [6.3, 2.0e-5],
  [7.0, 1.2e-5], [7.7, 1.0e-5], [8.5, 7e-6],
  [7.3, 11, 5e-6], [13, 18, 5e-6], [9, 12, 1.05e-6]
];
var hedRdOthers = [
  [3e-4, 7.6e-4, 5.5e-4], [5.0e-3, 6.2e-3, 2.8e-4], [9.5e-3, 1.28e-2, 1.1e-4], [1.5e-2, 1.8e-2, 1.75e-4],
  [2.9e-2, 4.3e-2, 5.5e-5], [8e-2, 0.17, 5.5e-5], [0.27, 0.36, 4.3e-5], [0.36, 0.5, 3.4e-5],
  [0.6, 0.86, 3.4e-5], [0.23, 0.36, 2.2e-5], [0.19, 0.3, 1.1e-5], [0.4, 0.6, 1.1e-5],
  [0.7, 0.86, 1.1e-5], [0.9, 1.4, 1.1e-5], [1.6, 2.6, 1.1e-5], [0.9, 1.6, 3.4e-5], [1.8, 2.6, 3.4e-5],
  [1.0, 1.6, 1.8e-5],
  [2.8, 9e-5], [3.1, 7e-5], [3.4, 8e-5], [3.8, 6e-5], [4.2, 5e-5], [4.7, 4e-5], [5.2, 3.7e-5],
  [5.8, 3e-5], [6.4, 2.5e-5], [7.1, 2e-5], [7.8, 1.5e-5], [8.6, 9e-6], [9.5, 7e-6], [10.5, 6e-6],
  [11.5, 5e-6],
  [13, 18, 2.1e-6], [20, 26, 2.1e-6], [29, 38, 6.8e-7], [31, 60, 4.4e-7], [26, 50, 2.2e-7]
];

// ---------- LED, HE/LE physics + radioactive decay ----------
var ledRdAll = [
  [3e-4, 1.3e-3, 6.3e-3], [1.3e-3, 1.8e-3, 3.3e-3], [1.8e-3, 3.1e-3, 3.9e-3], [3.1e-3, 4.1e-3, 6.8e-3],
  [4.1e-3, 5.4e-3, 4.6e-3], [5.4e-3, 6.8e-3, 6.3e-3], [6.8e-3, 1.22e-2, 6.4e-3], [1.22e-2, 1.55e-2, 4.9e-3],
  [1.5e-2, 2.4e-2, 6.1e-3], [2.4e-2, 3.4e-2, 5.7e-3], [2.6e-2, 3.6e-2, 3.5e-3], [3.6e-2, 4.8e-2, 4.1e-3],
  [0.05, 4.5e-3], [0.055, 3.7e-3], [0.06, 4.3e-3], [0.066, 3.6e-3], [0.072, 3.7e-3], [0.078, 3.2e-3],
  [0.085, 3.3e-3], [0.092, 3.0e-3], [0.1, 3.4e-3], [0.107, 4.5e-3], [0.114, 5.5e-3], [0.121, 6.5e-3],
  [0.128, 7.5e-3], [0.136, 8.5e-3], [0.144, 9.5e-3], [0.152, 1.0e-2], [0.161, 8.5e-3], [0.17, 7e-3],
  [0.18, 6.5e-3], [0.19, 6.2e-3], [0.2, 6e-3], [0.21, 6.5e-3], [0.22, 8e-3], [0.235, 1.0e-2],
  [0.25, 1.2e-2], [0.265, 1.4e-2], [0.28, 1.55e-2], [0.3, 1.7e-2], [0.32, 1.78e-2], [0.34, 1.75e-2],
  [0.36, 1.7e-2], [0.38, 1.6e-2], [0.4, 1.5e-2], [0.43, 1.35e-2], [0.46, 1.2e-2], [0.49, 1.1e-2],
  [0.52, 9.5e-3], [0.56, 8.5e-3], [0.6, 7.5e-3], [0.64, 6.5e-3], [0.68, 6e-3], [0.73, 5e-3],
  [0.78, 4.2e-3], [0.84, 3.4e-3], [0.9, 2.8e-3], [0.96, 2.4e-3], [1.03, 2.0e-3], [1.1, 1.7e-3],
  [1.18, 1.4e-3], [1.26, 1.1e-3], [1.35, 9e-4], [1.45, 7.5e-4], [1.55, 6.2e-4], [1.66, 5.5e-4],
  [1.78, 4.7e-4], [1.9, 4e-4], [2.04, 3.6e-4], [2.18, 3e-4], [2.34, 2.6e-4], [2.5, 2.3e-4],
  [2.68, 1.9e-4], [2.87, 1.5e-4], [3.07, 1.3e-4], [3.3, 1.1e-4], [3.5, 9e-5], [3.75, 8e-5],
  [4.0, 7e-5], [4.3, 5.5e-5], [4.6, 4.5e-5], [5.0, 3e-5], [5.4, 2.6e-5], [5.8, 2e-5],
  [6.2, 2.5e-5], [6.7, 1.5e-5], [7.2, 1.3e-5], [7.7, 1.2e-5], [8.3, 1.9e-5], [9.0, 9e-6],
  [9.7, 1.1e-5], [10.5, 5.8e-6], [11.5, 5e-6], [12.5, 5.5e-6], [14, 17, 2.1e-6], [31, 32, 6.8e-7]
];
var ledRdNeutrons = [
  [3e-4, 8e-4, 1.1e-3], [1.3e-3, 1.8e-3, 1.65e-3], [3.2e-3, 4.1e-3, 1.65e-3], [6.8e-3, 1.0e-2, 5.5e-4],
  [1.0e-2, 1.6e-2, 1.38e-3], [1.3e-2, 1.5e-2, 6.8e-4], [2.0e-2, 2.4e-2, 1.17e-3], [3.1e-2, 3.6e-2, 9e-4],
  [4.1e-2, 4.8e-2, 6.1e-4], [4.2e-2, 7e-2, 2.8e-4], [6.1e-2, 8e-2, 4.7e-4], [0.1, 0.12, 2.8e-4],
  [0.17, 0.19, 7.3e-5], [0.21, 0.22, 4.5e-5], [0.24, 0.27, 3.2e-5], [0.22, 0.3, 1.1e-5],
  [0.35, 0.5, 1.1e-5], [0.55, 0.65, 1.1e-5], [0.45, 0.7, 2.2e-5], [0.7, 0.8, 3.4e-5],
  [0.7, 0.9, 1.1e-5], [1.1, 1.7, 1.1e-5], [4.4, 5.0, 1.05e-6], [6.5, 8.9, 1.05e-6]
];
var ledRdProtons = [
  [6.8e-3, 1.5e-2, 1.1e-4], [2.2e-2, 3.6e-2, 5.5e-5], [3.0e-2, 3.6e-2, 3.2e-4], [4.2e-2, 7e-2, 1.65e-4],
  [8e-2, 0.13, 1.1e-4], [0.12, 0.15, 2.8e-4], [0.17, 0.2, 1.0e-4],
  [0.3, 6e-3], [0.32, 7.8e-3], [0.34, 8.3e-3], [0.36, 8.2e-3], [0.38, 7.9e-3], [0.4, 7.6e-3],
  [0.43, 7.2e-3], [0.46, 6.8e-3], [0.49, 6.3e-3], [0.52, 5.8e-3], [0.56, 5.3e-3], [0.6, 4.8e-3],
  [0.64, 4.3e-3], [0.68, 3.9e-3], [0.73, 3.4e-3], [0.78, 3.0e-3], [0.84, 2.6e-3], [0.9, 2.2e-3],
  [0.96, 1.9e-3], [1.03, 1.6e-3], [1.1, 1.35e-3], [1.18, 1.15e-3], [1.26, 9.5e-4], [1.35, 8e-4],
  [1.45, 6.5e-4], [1.55, 5.5e-4], [1.66, 4.6e-4], [1.78, 4e-4], [1.9, 3.4e-4], [2.04, 2.9e-4],
  [2.18, 2.5e-4], [2.34, 2.1e-4], [2.5, 1.8e-4], [2.68, 1.5e-4], [2.87, 1.2e-4], [3.07, 1.0e-4],
  [3.3, 8.5e-5], [3.5, 7e-5], [3.75, 6e-5], [4.0, 5e-5], [4.3, 4.2e-5], [4.6, 3.6e-5],
  [5.0, 3e-5], [5.5, 2.1e-5], [6.0, 1.6e-5], [6.6, 1.2e-5], [7.3, 8.7e-6], [8.3, 9e-6], [9.0, 9e-6],
  [10, 12, 4.3e-6], [12, 17.6, 3.1e-6], [10, 15, 2.1e-6], [16, 23, 2.1e-6], [7, 10, 1.05e-6],
  [15, 23, 1.05e-6], [23, 37, 4.4e-7], [28, 35, 2.2e-7], [38, 52, 2.2e-7]
];
var ledRdGammas = [
  [3e-4, 8e-4, 2.8e-3], [8e-4, 1.3e-3, 2.2e-3], [1.3e-3, 1.8e-3, 1.1e-3], [1.8e-3, 3.1e-3, 1.38e-3],
  [3.1e-3, 4.1e-3, 2.5e-3], [4.1e-3, 5.4e-3, 1.65e-3], [6.8e-3, 1.22e-2, 3.0e-3], [1.22e-2, 1.55e-2, 1.7e-3],
  [1.5e-2, 2.4e-2, 2.4e-3], [3.9e-2, 4.8e-2, 1.38e-3],
  [0.042, 8e-4], [0.048, 7e-4], [0.055, 6e-4], [0.062, 5.5e-4], [0.07, 4.7e-4], [0.078, 6e-4],
  [0.087, 8e-4], [0.096, 6.5e-4], [0.106, 7.5e-4], [0.117, 5.5e-4], [0.13, 6.8e-4], [0.145, 6e-4],
  [0.16, 3.9e-4], [0.18, 4.2e-4], [0.2, 3.9e-4], [0.22, 8e-4], [0.24, 7e-4], [0.26, 6.8e-4],
  [0.29, 3.2e-4], [0.32, 2.6e-4], [0.36, 2e-4], [0.4, 1.6e-4], [0.45, 1.3e-4], [0.5, 1.3e-4],
  [0.56, 9e-5], [0.63, 7e-5], [0.7, 6e-5], [0.8, 5.5e-5], [0.9, 8e-5],
  [0.7, 1.3, 2.2e-5], [0.7, 1.2, 1.1e-5], [1.5, 2.5, 1.1e-5]
];
var ledRdElectrons = [
  [3e-4, 8e-4, 2.2e-3], [8e-4, 1.3e-3, 1.65e-3], [1.3e-3, 1.8e-3, 5.5e-4], [1.8e-3, 3.1e-3, 1.1e-3],
  [3.1e-3, 4.1e-3, 2.4e-3], [4.1e-3, 5.4e-3, 1.1e-3], [6.8e-3, 1.22e-2, 2.5e-3], [1.0e-2, 1.22e-2, 1.2e-3],
  [1.22e-2, 2.4e-2, 2.1e-3], [2.4e-2, 4.8e-2, 2.0e-3],
  [0.05, 2.1e-3], [0.056, 2.0e-3], [0.062, 2.2e-3], [0.068, 2.0e-3], [0.075, 2.1e-3], [0.082, 1.9e-3],
  [0.09, 2.1e-3], [0.1, 1.6e-3], [0.11, 1.3e-3], [0.12, 1.0e-3], [0.13, 1.5e-3], [0.14, 1.05e-3],
  [0.155, 1.1e-3], [0.17, 1.05e-3], [0.19, 1.0e-3], [0.21, 1.1e-3], [0.23, 1.0e-3], [0.25, 1.05e-3],
  [0.27, 2.4e-3], [0.29, 3.4e-3], [0.31, 4.1e-3], [0.33, 4.8e-3], [0.35, 5.4e-3], [0.37, 5.0e-3],
  [0.4, 4.5e-3], [0.43, 3.9e-3], [0.46, 3.4e-3], [0.5, 2.8e-3], [0.54, 2.4e-3], [0.58, 2.0e-3],
  [0.63, 1.7e-3], [0.68, 1.45e-3], [0.74, 1.2e-3], [0.8, 1.0e-3], [0.87, 8e-4], [0.95, 6.5e-4],
  [1.03, 5.5e-4], [1.12, 4.7e-4], [1.22, 3.8e-4], [1.33, 2.8e-4], [1.45, 2.2e-4], [1.6, 1.8e-4],
  [1.75, 1.3e-4], [1.9, 1.1e-4], [2.1, 6.3e-5], [2.4, 5e-5], [2.7, 3.7e-5], [3.0, 2.1e-5],
  [0.7, 1.1, 2.2e-5], [1.4, 2.5, 2.2e-5], [2.8, 3.3, 4.3e-6], [3.0, 3.2, 2.1e-6], [2.8, 3.8, 1.05e-6],
  [4.6, 6, 1.05e-6]
];
var ledRdPositrons = [
  [3e-4, 8e-4, 5.5e-4], [4.1e-3, 6.2e-3, 2.8e-4], [7.5e-3, 1.1e-2, 1.1e-4], [1.2e-2, 1.76e-2, 1.1e-4],
  [1.5e-2, 2.2e-2, 1.65e-4], [2.4e-2, 4.8e-2, 1.65e-4], [4.2e-2, 6e-2, 1.1e-4], [7e-2, 0.15, 1.65e-4],
  [6.1e-2, 8.5e-2, 5.3e-5],
  [0.12, 2.0e-3], [0.128, 3.2e-3], [0.136, 4.6e-3], [0.144, 5.8e-3], [0.152, 6.4e-3], [0.161, 6.2e-3],
  [0.17, 5.2e-3], [0.18, 4.5e-3], [0.19, 4.0e-3], [0.2, 3.6e-3], [0.215, 3.2e-3], [0.23, 2.8e-3],
  [0.25, 2.4e-3], [0.27, 2.1e-3], [0.29, 1.7e-3], [0.31, 1.3e-3], [0.33, 1.0e-3], [0.36, 8e-4],
  [0.39, 7e-4], [0.42, 6.8e-4], [0.46, 5.5e-4], [0.5, 4.5e-4], [0.55, 4.0e-4], [0.6, 3.6e-4],
  [0.66, 3.2e-4], [0.72, 2.8e-4], [0.79, 2.3e-4], [0.86, 1.8e-4], [0.94, 1.3e-4], [1.02, 1.1e-4],
  [1.12, 1.0e-4], [1.24, 8e-5], [1.36, 6.3e-5], [1.5, 5e-5], [1.65, 4.5e-5], [1.8, 4.5e-5],
  [2.0, 4.3e-5], [2.3, 4.0e-5], [0.8, 1.3, 1.1e-5]
];
var ledRdOthers = [
  [2.1e-3, 3.1e-3, 2.8e-4], [3.1e-3, 4.3e-3, 2.8e-4], [4.3e-3, 6.2e-3, 2.8e-4], [6.8e-3, 1.0e-2, 2.2e-4],
  [1.1e-2, 1.76e-2, 2.2e-4], [1.76e-2, 2.6e-2, 3.2e-4], [2.6e-2, 4.2e-2, 2.2e-4], [7e-2, 0.12, 1.1e-4],
  [0.12, 0.2, 1.1e-4], [0.17, 0.22, 7.9e-5],
  [0.28, 1.2e-3], [0.3, 1.6e-3], [0.32, 2.0e-3], [0.34, 1.9e-3], [0.37, 1.8e-3], [0.4, 1.6e-3],
  [0.43, 1.5e-3], [0.46, 1.4e-3], [0.5, 1.25e-3], [0.55, 1.1e-3], [0.6, 8e-4], [0.65, 7.5e-4],
  [0.7, 6.5e-4], [0.76, 5.5e-4], [0.82, 4.8e-4], [0.89, 4.2e-4], [0.97, 3.9e-4], [1.05, 2.8e-4],
  [1.14, 2.3e-4], [1.24, 1.8e-4], [1.35, 1.3e-4], [1.47, 1.0e-4], [1.6, 8e-5], [1.75, 5.5e-5],
  [1.9, 5.5e-5], [2.1, 4.5e-5], [2.3, 3.7e-5], [2.5, 3.7e-5],
  [1.0, 1.5, 2.2e-5], [1.7, 2.5, 2.2e-5], [2.8, 3.3, 1.65e-5], [3.3, 5, 7.3e-6], [3.3, 5, 5.5e-6],
  [6, 7.3, 2.1e-6], [8, 12, 1.05e-6], [14, 23, 1.05e-6], [28, 36, 2.2e-7], [40, 52, 2.2e-7]
];

var panelData = [
  [hedAll, hedNeutrons, hedProtons, hedGammas, hedElectrons, hedPositrons, hedOthers],
  [ledAll, ledNeutrons, ledProtons, ledGammas, ledElectrons, ledPositrons, ledOthers],
  [hedRdAll, hedRdNeutrons, hedRdProtons, hedRdGammas, hedRdElectrons, hedRdPositrons, hedRdOthers],
  [ledRdAll, ledRdNeutrons, ledRdProtons, ledRdGammas, ledRdElectrons, ledRdPositrons, ledRdOthers]
];
var panelNames = [particleNames, particleNamesLed, particleNames, particleNames];

// ---------- look ----------
var colors = ['#000000', '#5b146e', '#3010f0', '#1cb5f2', '#1ef03a', '#a4f01a', '#ff8f1f'];
var serif = "'Liberation Serif', 'Times New Roman', serif";
var frameColor = '#555555';
var xMin = 4.94e-4, xMax = 2100, yMin = 1e-7, yMax = 100;
var grids = [
  {left: 73.5, top: 32, width: 524, height: 380.5},
  {left: 690, top: 32, width: 525, height: 380.5},
  {left: 73.5, top: 495, width: 524, height: 380.5},
  {left: 690, top: 495, width: 525, height: 380.5}
];
var titleCenters = [[332, 6], [950, 6], [334, 469], [959, 469]];
var legendCorners = [[463.3, 42], [1080.7, 42], [463.3, 505], [1080.7, 505]];

function isDecade(v, ref) {
  return Math.abs(Math.log10(v) - Math.log10(ref)) < 1e-6;
}
function xLabel(v) {
  for (var i = 0; i < xTickValues.length; i++) {
    if (isDecade(v, xTickValues[i])) return xTickLabels[i];
  }
  return '';
}
function yLabel(v) {
  for (var i = 0; i < yTickExponents.length; i++) {
    if (isDecade(v, Math.pow(10, yTickExponents[i]))) return '{b|10}{s|' + yTickSuperscripts[i] + '}';
  }
  return '';
}

function toBins(list) {
  return list.map(function (d) { return d.length === 3 ? d : [d[0], d[0], d[1]]; });
}

// horizontal bin bar, a small error tick, and an arrow for underflow bins
function binRenderer(color) {
  return function (params, api) {
    var cs = params.coordSys;
    var lo = api.value(0), hi = api.value(1), f = api.value(2);
    var a = api.coord([lo, f]), b = api.coord([hi, f]);
    var y = a[1], x1 = a[0], x2 = b[0];
    var under = x1 < cs.x;
    if (under) x1 = cs.x;
    if (x2 - x1 < 3) { var c = (x1 + x2) / 2; x1 = c - 1.5; x2 = c + 1.5; }
    var kids = [{
      type: 'line', shape: {x1: x1, y1: y, x2: x2, y2: y},
      style: {stroke: color, lineWidth: 1.6}
    }];
    if (x2 - x1 > 14 && !under) {
      var m = (x1 + x2) / 2;
      kids.push({type: 'line', shape: {x1: m, y1: y - 1.8, x2: m, y2: y + 1.8}, style: {stroke: color, lineWidth: 1}});
    }
    if (under) {
      kids.push({type: 'polyline', shape: {points: [[x1 + 9, y - 4], [x1, y], [x1 + 9, y + 4]]},
        style: {stroke: color, fill: null, lineWidth: 1.4}});
    }
    return {type: 'group', children: kids};
  };
}

var axisLineStyle = {color: frameColor, width: 1.5};
var option = {
  animation: false,
  backgroundColor: '#ffffff',
  title: [], legend: [], grid: [], xAxis: [], yAxis: [], series: []
};

panelTitles.forEach(function (t, i) {
  option.title.push({
    text: t, left: titleCenters[i][0], top: titleCenters[i][1], textAlign: 'center', padding: 0,
    textStyle: {fontFamily: serif, fontSize: 22, fontWeight: 'normal', color: '#000', lineHeight: 24}
  });
  option.grid.push({
    left: grids[i].left, top: grids[i].top, width: grids[i].width, height: grids[i].height,
    containLabel: false, outerBoundsMode: 'none'
  });
  [false, true].forEach(function (mirror) {
    option.xAxis.push({
      type: 'log', logBase: 10, gridIndex: i, position: mirror ? 'top' : 'bottom',
      min: xMin, max: xMax,
      axisLine: {show: true, onZero: false, lineStyle: axisLineStyle},
      axisTick: {show: true, inside: true, length: 7, lineStyle: axisLineStyle},
      axisLabel: mirror ? {show: false} : {
        show: true, margin: 8, formatter: xLabel,
        fontFamily: serif, fontSize: 21, color: '#000'
      },
      splitLine: {show: false},
      name: mirror ? '' : 'Energy [MeV]', nameLocation: 'middle', nameGap: 35,
      nameTextStyle: {fontFamily: serif, fontSize: 22, color: '#000'}
    });
    option.yAxis.push({
      type: 'log', logBase: 10, gridIndex: i, position: mirror ? 'right' : 'left',
      min: yMin, max: yMax,
      axisLine: {show: true, onZero: false, lineStyle: axisLineStyle},
      axisTick: {show: true, inside: true, length: 7, lineStyle: axisLineStyle},
      axisLabel: mirror ? {show: false} : {
        show: true, margin: 2, formatter: yLabel,
        rich: {
          b: {fontFamily: serif, fontSize: 21, color: '#000', lineHeight: 28},
          s: {fontFamily: serif, fontSize: 14, color: '#000', lineHeight: 14, verticalAlign: 'top'}
        }
      },
      splitLine: {show: false},
      name: mirror ? '' : '{b|Flux [Counts keV}{s|\u22121}{b| cm}{s|\u22122}{b| s}{s|\u22121}{b|]}',
      nameLocation: 'middle', nameRotate: 90, nameGap: 38,
      nameTextStyle: {
        rich: {
          b: {fontFamily: serif, fontSize: 22, color: '#000', lineHeight: 28},
          s: {fontFamily: serif, fontSize: 15, color: '#000', lineHeight: 15, verticalAlign: 'top'}
        }
      }
    });
  });
  var names = panelNames[i];
  option.legend.push({
    orient: 'vertical', left: legendCorners[i][0], top: legendCorners[i][1], padding: 0,
    itemGap: 0, itemWidth: 0, itemHeight: 0, icon: 'none', selectedMode: false,
    textStyle: {fontFamily: serif, fontSize: 22, lineHeight: 23.3},
    data: names.map(function (n, k) { return {name: n, textStyle: {color: colors[k]}}; })
  });
  panelData[i].forEach(function (list, k) {
    option.series.push({
      type: 'custom', name: names[k], xAxisIndex: 2 * i, yAxisIndex: 2 * i,
      coordinateSystem: 'cartesian2d', clip: true,
      itemStyle: {color: colors[k]},
      encode: {x: [0, 1], y: 2},
      renderItem: binRenderer(colors[k]),
      data: toBins(list)
    });
  });
});

var chart = echarts.init(document.getElementById('main'), null, {renderer: 'canvas'});
chart.setOption(option);
</script>
</body>
</html>
